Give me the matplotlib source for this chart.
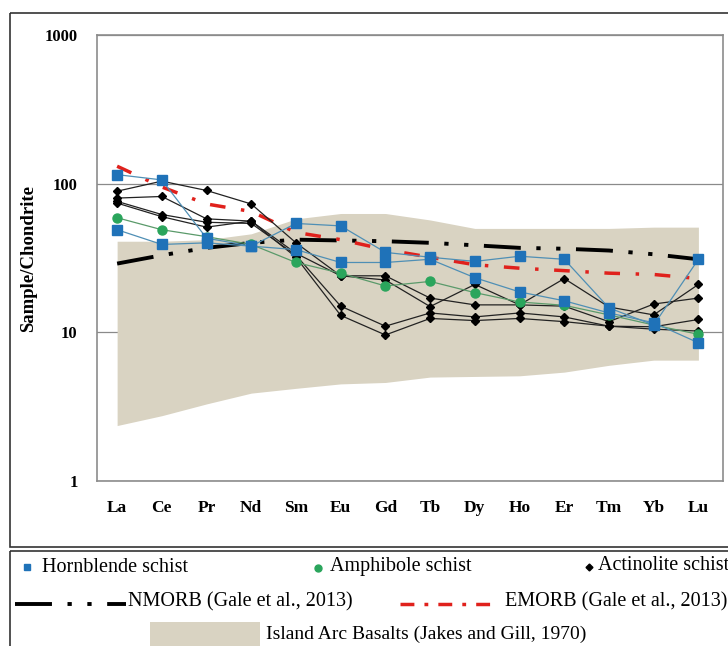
import numpy as np
import matplotlib
matplotlib.use('Agg')
import matplotlib.pyplot as plt
from matplotlib.lines import Line2D
from matplotlib.patches import Rectangle

plt.rcParams['font.family'] = ['Liberation Serif', 'DejaVu Serif']

REE = ["La", "Ce", "Pr", "Nd", "Sm", "Eu", "Gd", "Tb", "Dy", "Ho", "Er", "Tm", "Yb", "Lu"]

# chondrite-normalised values
hornblende = [
    [115, 106, 43, 38, 54, 52, 34.5, 32, 30, 32.5, 31, 14.6, 11.2, 31],
    [49, 39, 40, 38, 36, 29.5, 29.5, 31, 23.3, 18.7, 16.3, 13.5, 11.6, 8.5],
]
amphibole = [
    [59, 49, 44, 39, 29.5, 25, 20.5, 22, 18.5, 16, 15.2, 13.1, 11.2, 9.7],
]
actinolite = [
    [89, 104, 90, 73, 40, 24, 22.5, 14.9, 21, 15.3, 23, 14.8, 13.1, 21],
    [80, 82, 58, 56, 34, 24, 24, 17, 15.3, 15.3, 15, 11.8, 15.5, 17],
    [76, 62, 55, 54, 33, 15, 11, 13.5, 12.7, 13.5, 12.7, 11, 10.9, 12.2],
    [74, 60, 51, 56, 32, 13, 9.6, 12.4, 12, 12.4, 11.8, 11, 10.5, 10.2],
]
nmorb = [29, 33, 37, 40, 42, 41.5, 41, 40, 38.5, 37, 36.5, 35.5, 33.5, 31]
emorb = [131, 95, 73, 65, 47, 42, 36, 32, 28.5, 27, 26, 25, 24.5, 23]
iab_upper = [41, 41, 42, 46, 58, 63, 63, 57, 50, 50, 50, 50, 51, 51]
iab_lower = [2.36, 2.75, 3.3, 3.9, 4.2, 4.5, 4.6, 5.0, 5.05, 5.1, 5.4, 6.0, 6.5, 6.5]

BLUE = '#1f72b8'
BLUE_LINE = '#4f8fb5'
GREEN = '#2aa55c'
GREEN_LINE = '#5a9a6a'
RED = '#e0211c'
BAND = '#d9d3c2'

NM_DASH = (9.5, 4, 1.1, 4, 1.1, 4)
EM_DASH = (4.5, 4.5, 1, 4.5)

W, H = 728, 646
fig = plt.figure(figsize=(W / 100, H / 100), dpi=100)

# background frames (pixel coordinates)
bg = fig.add_axes([0, 0, 1, 1], zorder=-1)
bg.set_xlim(0, W)
bg.set_ylim(H, 0)
bg.axis('off')
bg.add_patch(Rectangle((10, 13), 760, 534, fill=False, ec='#333333', lw=1.2))
bg.add_patch(Rectangle((10, 551), 760, 120, fill=False, ec='#333333', lw=1.2))

ax = fig.add_axes([97 / W, 1 - 481 / H, 626 / W, 446 / H])
x = np.arange(len(REE))

ax.fill_between(x, iab_lower, iab_upper, color=BAND, lw=0, zorder=1)
ax.plot(x, nmorb, color='black', lw=2.8, dashes=NM_DASH, dash_capstyle='butt', zorder=2)
ax.plot(x, emorb, color=RED, lw=2.5, dashes=EM_DASH, dash_capstyle='butt', zorder=2)

for s in actinolite:
    ax.plot(x, s, color='#222222', lw=0.9, marker='D', ms=4.5, mfc='black', mec='black', zorder=3)
for s in amphibole:
    ax.plot(x, s, color=GREEN_LINE, lw=0.9, marker='o', ms=6.5, mfc=GREEN, mec=GREEN, zorder=4)
for s in hornblende:
    ax.plot(x, s, color=BLUE_LINE, lw=0.9, marker='s', ms=7, mfc=BLUE, mec=BLUE, zorder=5)

ax.set_yscale('log')
ax.set_ylim(1, 1000)
ax.set_xlim(-0.45, 13.55)
ax.set_yticks([1, 10, 100, 1000])
ax.set_yticklabels(['1', '10', '100', '1000'], fontweight='bold', fontsize=12)
ax.minorticks_off()
ax.set_xticks(x)
ax.set_xticklabels(REE, fontweight='bold', fontsize=12.5)
ax.tick_params(axis='both', length=0)
ax.tick_params(axis='y', pad=14)
ax.tick_params(axis='x', pad=14)
ax.grid(axis='y', color='#8a8a8a', lw=0.9)
ax.set_axisbelow(True)
for sp in ax.spines.values():
    sp.set_color('#8c8c8c')
    sp.set_linewidth(1.2)
ax.set_ylabel('Sample/Chondrite', fontweight='bold', fontsize=13.5)
ax.yaxis.set_label_coords(-0.095, 0.5)

# legend in pixel coordinates, cut off at the right like the original
fs = 14.5
bg.add_line(Line2D([27], [567], marker='s', ms=5, color=BLUE, ls='none'))
bg.text(42, 567, 'Hornblende schist', fontsize=fs, va='center')
bg.add_line(Line2D([318], [568], marker='o', ms=5, color=GREEN, ls='none'))
bg.text(330, 567, 'Amphibole schist', fontsize=fs, va='center')
bg.add_line(Line2D([589], [567], marker='D', ms=3.5, color='black', ls='none'))
bg.text(598, 566, 'Actinolite schist', fontsize=fs, va='center')
bg.add_line(Line2D([15, 126], [604, 604], color='black', lw=2.8, dashes=NM_DASH,
                   dash_capstyle='butt'))
bg.text(128, 602, 'NMORB (Gale et al., 2013)', fontsize=fs, va='center')
bg.add_line(Line2D([400, 496], [604, 604], color=RED, lw=2.5, dashes=(4, 2.9, 1.1, 2.9),
                   dash_capstyle='butt'))
bg.text(505, 602, 'EMORB (Gale et al., 2013)', fontsize=fs, va='center')
bg.add_patch(Rectangle((150, 622), 110, 26, color=BAND, lw=0))
bg.text(266, 634, 'Island Arc Basalts (Jakes and Gill, 1970)', fontsize=14, va='center')

fig.savefig('out.png', dpi=100)
